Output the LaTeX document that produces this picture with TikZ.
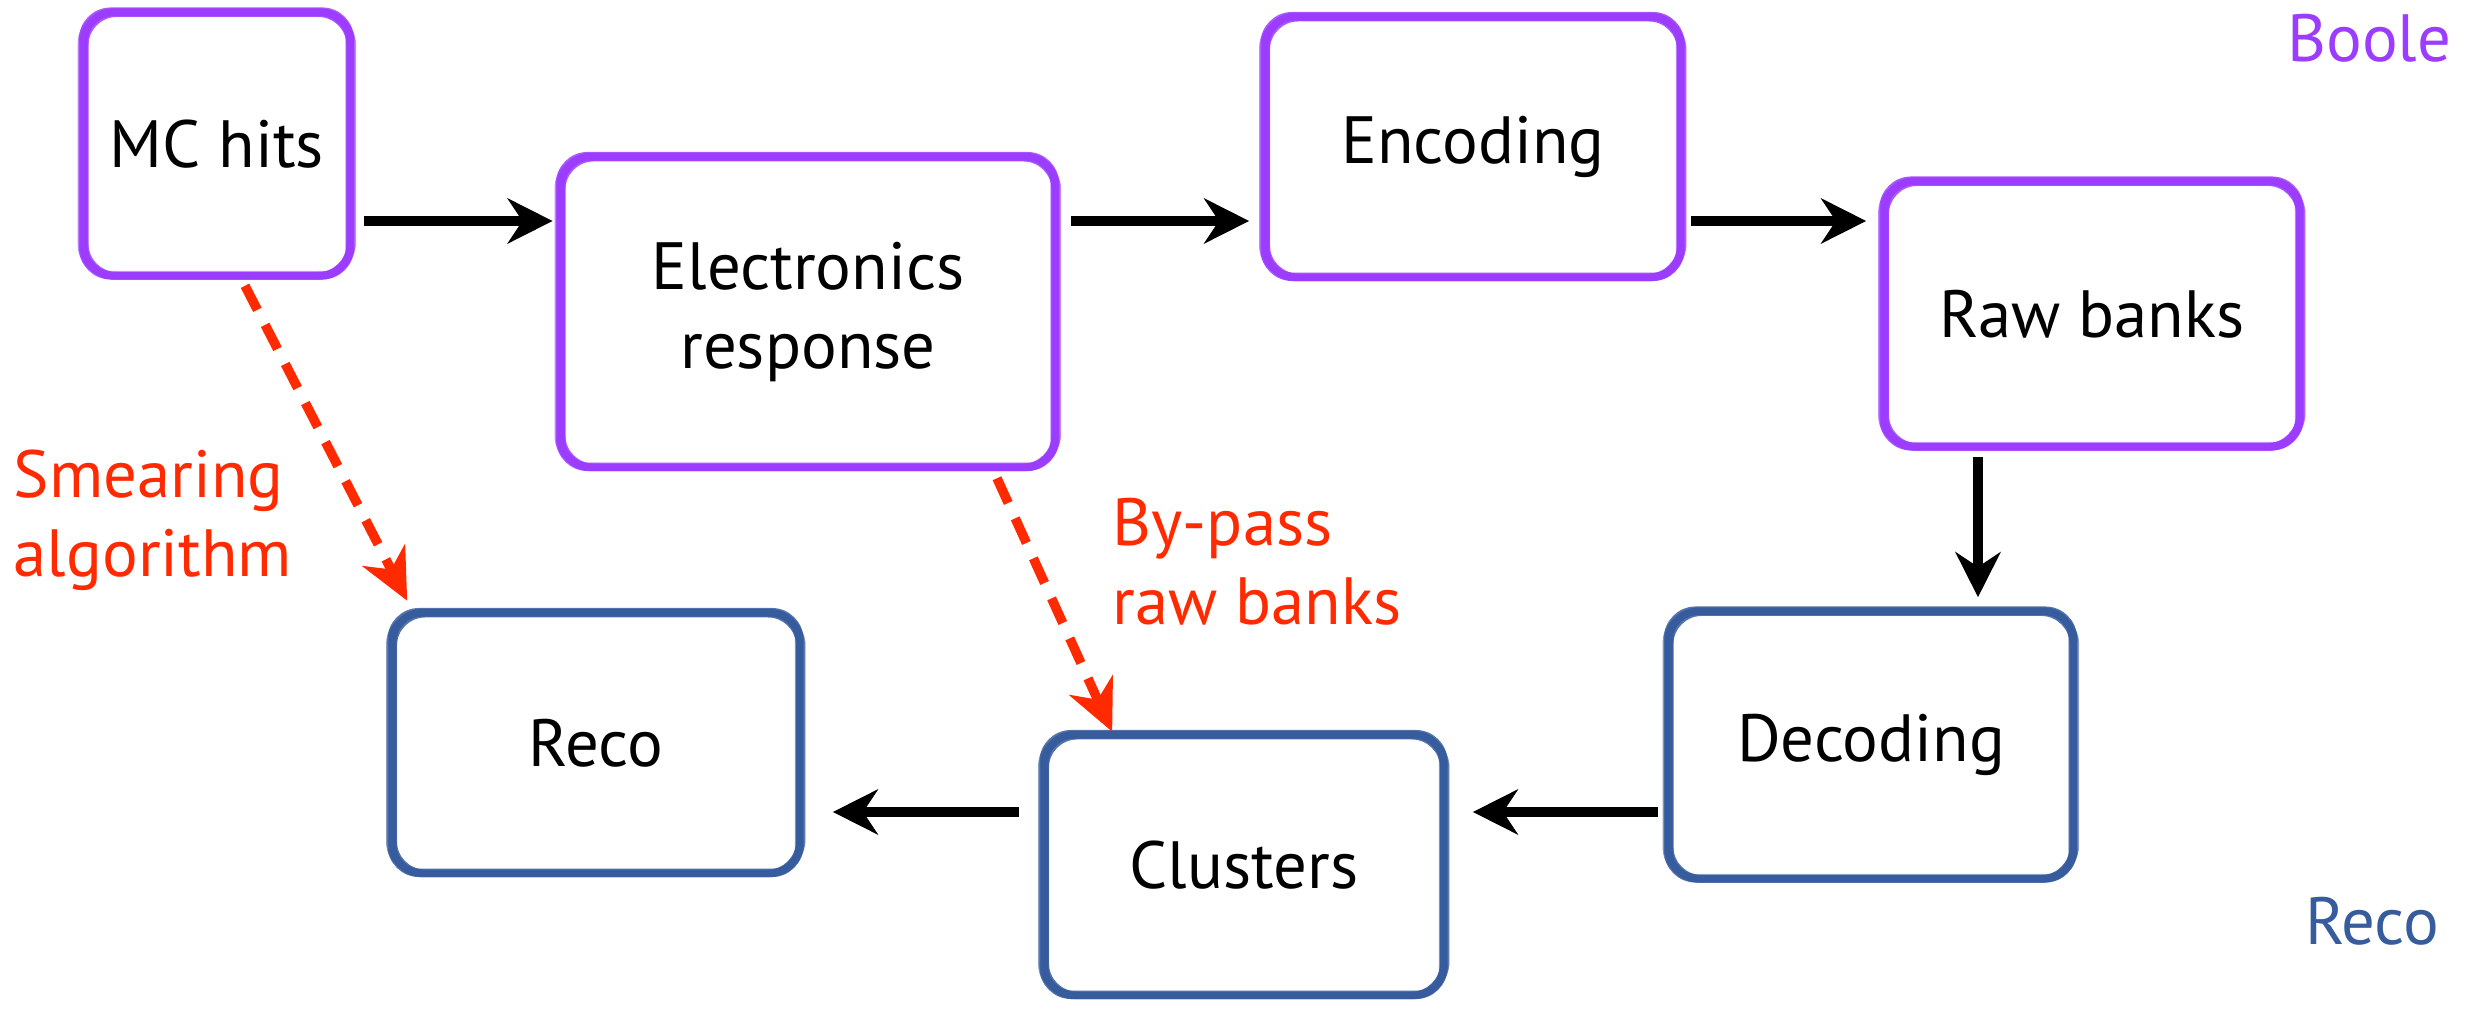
\documentclass[tikz,border=0pt]{standalone}
\usepackage{fontspec}
\setmainfont{PT Sans}
\usetikzlibrary{arrows.meta,calc}
\definecolor{boole}{HTML}{9B3CFF}
\definecolor{recoblue}{HTML}{375C9E}
\definecolor{bypassred}{HTML}{FF2A00}

% hand-drawn looking rounded frame around a node
\newcommand\sketchframe[2]{%
  \foreach \ax/\ay/\bx/\by/\lw/\op in {0/0/0/0/2.2/1,
      -3/2/2/-3/1.0/0.85, 3/-2/-2/3/1.0/0.85, -5/-1/4/1/0.6/0.6,
      4/3/-4/-2/0.5/0.6, -2/-4/5/3/0.5/0.5}{%
    \draw[#2, line width=\lw pt, opacity=\op, rounded corners=0.3cm]
      ($(#1.south west)+(\ax,\ay)$) rectangle ($(#1.north east)+(\bx,\by)$);
  }%
}

\begin{document}
\begin{tikzpicture}[x=0.01cm, y=-0.01cm,
  font=\fontsize{19}{22.5}\selectfont,
  stage/.style={inner sep=0pt, align=center, text=black},
  flow/.style={line width=3.1pt, -{Stealth[length=12.8pt, width=12.8pt, inset=4.2pt]}},
  bypass/.style={bypassred, line width=2.7pt, dash pattern=on 7.7pt off 4.8pt,
    -{Stealth[length=14.5pt, width=13.5pt, inset=4.5pt]}},
  lbl/.style={inner sep=0pt, align=left}]
\useasboundingbox (0,0) rectangle (2481,1010);

% stages
\node[stage, minimum width=2.65cm, minimum height=2.62cm] (mc)   at (217,144)  {MC hits};
\node[stage, minimum width=4.93cm, minimum height=3.09cm] (el)   at (808,312)  {Electronics\\response};
\node[stage, minimum width=4.14cm, minimum height=2.59cm] (enc)  at (1473,147) {Encoding};
\node[stage, minimum width=4.14cm, minimum height=2.64cm] (raw)  at (2092,314) {Raw banks};
\node[stage, minimum width=4.03cm, minimum height=2.66cm] (dec)  at (1871,745) {Decoding};
\node[stage, minimum width=3.98cm, minimum height=2.59cm] (clu)  at (1244,865) {Clusters};
\node[stage, minimum width=4.06cm, minimum height=2.59cm] (reco) at (596,743)  {Reco};

\sketchframe{mc}{boole}
\sketchframe{el}{boole}
\sketchframe{enc}{boole}
\sketchframe{raw}{boole}
\sketchframe{dec}{recoblue}
\sketchframe{clu}{recoblue}
\sketchframe{reco}{recoblue}

% guide lines for the straight connectors
\coordinate (r1) at (0,221);
\coordinate (r2) at (0,812);
\coordinate (c1) at (1978,0);

\draw[flow, shorten <=0.14cm, shorten >=0.08cm] (mc.east |- r1) -- (el.west |- r1);
\draw[flow, shorten <=0.16cm, shorten >=0.16cm] (el.east |- r1) -- (enc.west |- r1);
\draw[flow, shorten <=0.10cm, shorten >=0.18cm] (enc.east |- r1) -- (raw.west |- r1);
\draw[flow, shorten <=0.10cm, shorten >=0.14cm] (raw.south -| c1) -- (dec.north -| c1);
\draw[flow, shorten <=0.11cm, shorten >=0.29cm] (dec.west |- r2) -- (clu.east |- r2);
\draw[flow, shorten <=0.25cm, shorten >=0.33cm] (clu.west |- r2) -- (reco.east |- r2);

% shortcuts
\draw[bypass] ($(mc.south)+(28,10)$) -- ($(reco.north west)+(15,-12)$);
\draw[bypass] ($(el.south)+(189,11)$) -- ($(clu.north west)+(68,-3)$);

% labels (base anchor sits on the last line)
\node[lbl, text=bypassred, anchor=base west] (smear) at (13,577) {Smearing\\algorithm};
\node[lbl, text=bypassred, anchor=base west] (skip) at (1112,625) {By-pass\\raw banks};
\node[lbl, text=boole, anchor=base east] (boolelbl) at (2452,62) {Boole};
\node[lbl, text=recoblue, anchor=base east] (recolbl) at (2440,945) {Reco};
\end{tikzpicture}
\end{document}
